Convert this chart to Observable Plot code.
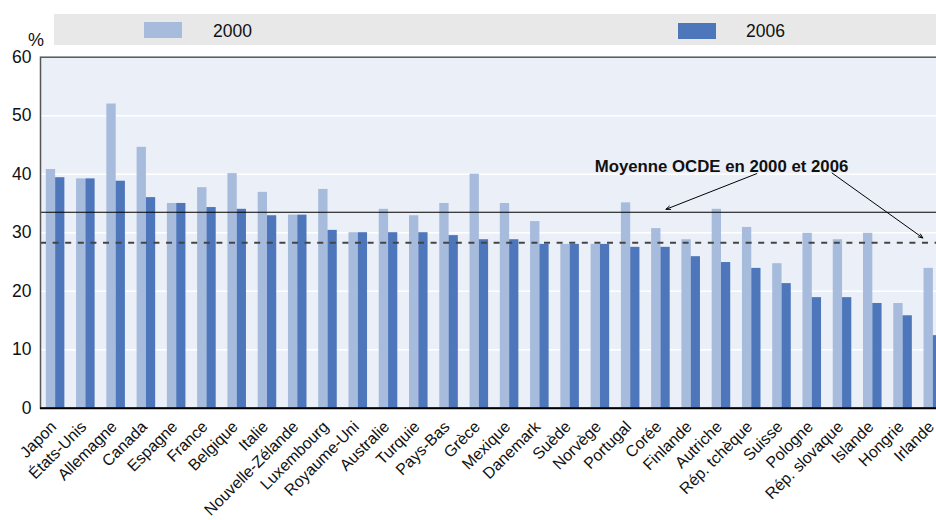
<!DOCTYPE html>
<html>
<head>
<meta charset="utf-8">
<script src="https://cdn.jsdelivr.net/npm/d3@7"></script>
<script src="https://cdn.jsdelivr.net/npm/@observablehq/plot@0.6"></script>
<style>
  html, body { margin: 0; padding: 0; background: #fff; overflow: hidden; width: 936px; height: 520px; }
  #head { position: relative; height: 45px; font-family: "Liberation Sans", Arial, sans-serif; }
  #legendbox { position: absolute; left: 54px; top: 14px; width: 882px; height: 31px; background: #E8E8E8; }
  .sw { position: absolute; width: 38px; height: 16px; }
  .lt { position: absolute; font-size: 17.5px; line-height: 17.5px; color: #111; }
  #pct { position: absolute; left: 28px; top: 31px; font-size: 18px; line-height: 18px; color: #111; }
</style>
</head>
<body>
<div id="head">
  <div id="legendbox"></div>
  <div id="pct">%</div>
</div>
<div id="chart"></div>
<script>
const countries = ["Japon","États-Unis","Allemagne","Canada","Espagne","France","Belgique","Italie","Nouvelle-Zélande","Luxembourg","Royaume-Uni","Australie","Turquie","Pays-Bas","Grèce","Mexique","Danemark","Suède","Norvège","Portugal","Corée","Finlande","Autriche","Rép. tchèque","Suisse","Pologne","Rép. slovaque","Islande","Hongrie","Irlande"];
const values2000 = [40.8,39.2,52.0,44.6,35.0,37.7,40.1,36.9,33.0,37.4,30.0,34.0,32.9,35.0,40.0,35.0,31.9,28.0,28.0,35.1,30.7,28.8,34.0,30.9,24.7,29.9,28.8,29.9,17.9,23.9];
const values2006 = [39.4,39.2,38.8,36.0,35.0,34.3,34.0,32.9,33.0,30.4,30.0,30.0,30.0,29.5,28.8,28.8,28.0,28.0,28.0,27.5,27.5,25.9,24.9,23.9,21.3,18.9,18.9,17.9,15.8,12.4];
const series = ["2000", "2006"];
const colors = ["#A7BBDD", "#4E76BA"];
const oecdMean2000 = 33.5;
const oecdMean2006 = 28.3;
const yTicks = [0, 10, 20, 30, 40, 50, 60];
const annotationText = "Moyenne OCDE en 2000 et 2006";

const table = countries.map((c, i) => ({country: c, v2000: values2000[i], v2006: values2006[i]}));

// legend (HTML, above the SVG)
const head = document.getElementById("head");
const legendPos = [{sw: 144, tx: 213, top: 22}, {sw: 678, tx: 746, top: 23}];
series.forEach((s, i) => {
  const sw = document.createElement("div");
  sw.className = "sw";
  sw.style.left = legendPos[i].sw + "px";
  sw.style.top = legendPos[i].top + "px";
  sw.style.background = colors[i];
  head.appendChild(sw);
  const t = document.createElement("div");
  t.className = "lt";
  t.style.left = legendPos[i].tx + "px";
  t.style.top = "23px";
  t.textContent = s;
  head.appendChild(t);
});

const font = "'Liberation Sans', Arial, sans-serif";

const chart = Plot.plot({
  width: 936,
  height: 475,
  marginLeft: 40,
  marginRight: -12,
  marginTop: 11.7,
  marginBottom: 112.3,
  style: {fontFamily: font, background: "transparent", color: "#111"},
  x: {domain: countries, padding: 0, round: false, label: null},
  y: {domain: [0, 60], label: null},
  marks: [
    Plot.frame({fill: "#EBF0F8"}),
    Plot.gridY(yTicks.slice(1, -1), {stroke: "white", strokeOpacity: 1, strokeWidth: 1.5}),
    Plot.barY(table, {x: "country", y: "v2000", fill: colors[0], insetLeft: 5.8, insetRight: 15.13}),
    Plot.barY(table, {x: "country", y: "v2006", fill: colors[1], insetLeft: 15.13, insetRight: 5.9}),
    Plot.ruleY([oecdMean2000], {stroke: "black", strokeWidth: 1.2}),
    Plot.ruleY([oecdMean2006], {stroke: "#444", strokeWidth: 2, strokeDasharray: "6,6.6"}),
    Plot.frame({stroke: "#555", strokeWidth: 1.5}),
    Plot.ruleY([0], {stroke: "black", strokeWidth: 2}),
    Plot.axisY(yTicks, {tickSize: 0, tickPadding: 9, fontSize: 17.5, fontFamily: font}),
    Plot.axisX({tickSize: 0, tickRotate: -45, tickPadding: 16, dx: -2, fontSize: 16, fontFamily: font}),
    Plot.text([annotationText], {x: () => "Autriche", y: () => 41.3, text: d => d, fontWeight: "bold", fontSize: 16.8, fontFamily: font, fill: "#111"}),
    Plot.arrow([{x1: "Rép. tchèque", y1: 40.1, x2: "Corée", y2: 34.0}], {x1: "x1", y1: "y1", x2: "x2", y2: "y2", dx: 5, stroke: "black", strokeWidth: 1, headLength: 7, headAngle: 45}),
    Plot.arrow([{x1: "Rép. slovaque", y1: 40.2, x2: "Irlande", y2: 29.1}], {x1: "x1", y1: "y1", x2: "x2", y2: "y2", dx: -10.5, stroke: "black", strokeWidth: 1, headLength: 7, headAngle: 45})
  ]
});
document.getElementById("chart").appendChild(chart);
</script>
</body>
</html>
